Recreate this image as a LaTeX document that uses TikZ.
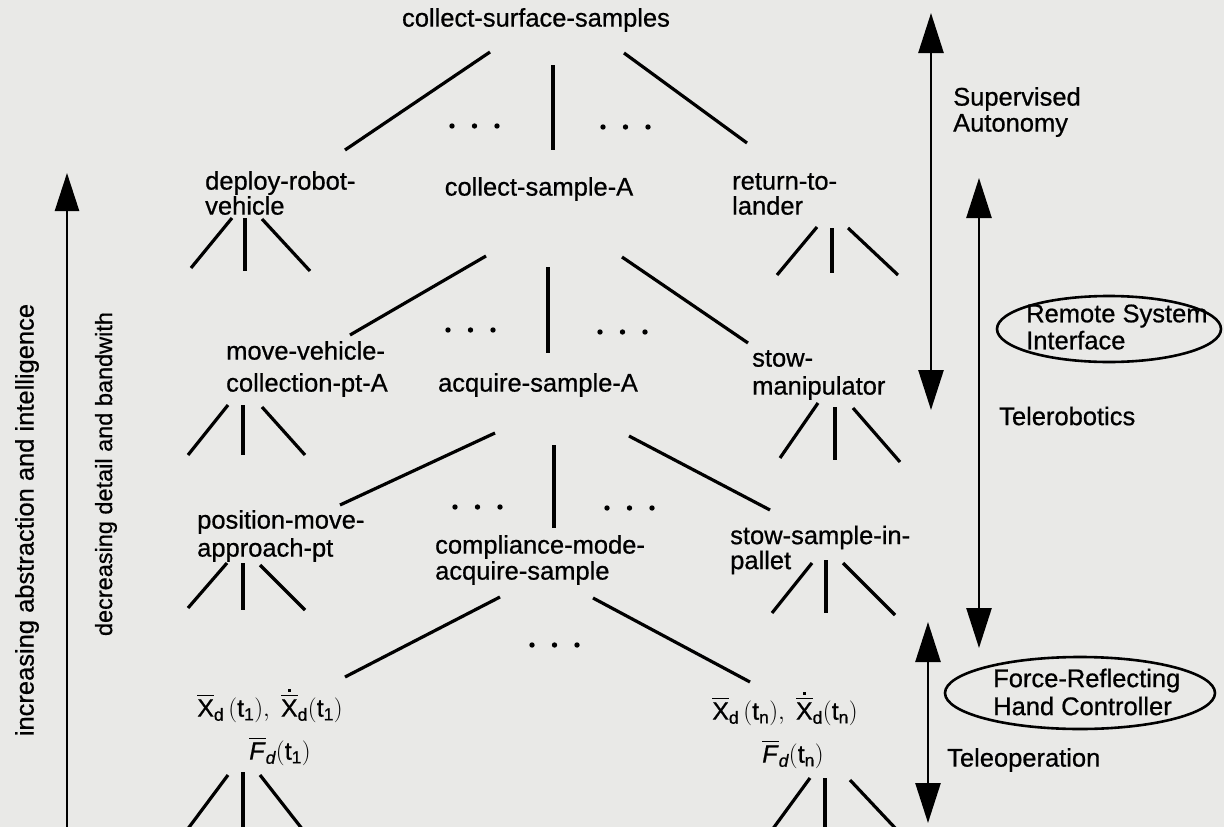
\documentclass[tikz,border=0pt]{standalone}
\usepackage{fontspec}
\setmainfont{Liberation Sans}[FakeBold=0.7]
\usepackage{amsmath}
\usetikzlibrary{arrows.meta,shapes.geometric}
\definecolor{paper}{RGB}{233,233,231}
\newcommand{\vbar}[1]{\overline{\text{#1}}}
\newcommand{\dotvbar}[1]{\overset{\raisebox{-3pt}{\rule{2.8pt}{2.8pt}}}{\vbar{#1}}}
\newcommand{\seg}[3]{\coordinate (#1a) at (#2); \coordinate (#1b) at (#3); \draw[branch] (#1a) -- (#1b);}
\newcommand{\tridots}[2]{\foreach \k in {0,1,2} {\fill (#1+\k*22.5,#2) circle (2.7);}}
\begin{document}
\begin{tikzpicture}[x=1pt,y=-1pt,
  lbl/.style={inner sep=0pt, font=\fontsize{25.5}{26}\selectfont},
  ml/.style={inner sep=0pt, align=left, anchor=west, font=\fontsize{25.5}{#1}\selectfont},
  mathlbl/.style={inner sep=0pt, align=center, font=\fontsize{25}{43}\selectfont},
  branch/.style={line width=3.2pt},
  shaft/.style={line width=2.6pt},
  uptip/.style={-{Triangle[length=38pt,width=24pt]}},
  dtip/.style={{Triangle[length=40pt,width=25pt]}-{Triangle[length=40pt,width=25pt]}},
  oval/.style={draw, ellipse, line width=2.6pt, inner sep=0pt}
]
\fill[paper] (0,0) rectangle (1224,827);
\useasboundingbox (0,0) rectangle (1224,827);

% left axis
\node[lbl, rotate=90] (incr) at (27,520) {increasing abstraction and intelligence};
\node[inner sep=0pt, font=\fontsize{23.5}{25}\selectfont, rotate=90] (decr) at (106,474) {decreasing detail and bandwith};
\coordinate (absbot) at (67,830);
\coordinate (abstop) at (67,173);
\draw[shaft, uptip] (absbot) -- (abstop);

% task nodes
\node[lbl] (css) at (536,20) {collect-surface-samples};
\node[ml=25] (drv) at (205,193) {deploy-robot-\\vehicle};
\node[lbl] (csa) at (539,189) {collect-sample-A};
\node[ml=25] (rtl) at (732,194) {return-to-\\lander};
\node[ml=32] (mvc) at (226,369) {move-vehicle-\\collection-pt-A};
\node[lbl] (asa) at (538,385) {acquire-sample-A};
\node[ml=28] (stow) at (752,375) {stow-\\manipulator};
\node[ml=28] (pmap) at (197,536) {position-move-\\approach-pt};
\node[ml=26] (cmas) at (435,560) {compliance-mode-\\acquire-sample};
\node[ml=25] (ssip) at (730,550) {stow-sample-in-\\pallet};

% trajectory labels
\node[mathlbl] (xt1) at (270,726) {$\vbar{X}_{\text{d}}\,(\text{t}_{\text{1}}),\ \dotvbar{X}_{\text{d}}(\text{t}_{\text{1}})$\\\hspace*{20pt}$\vbar{\textit{F}}_{\textit{d}}(\text{t}_{\text{1}})$};
\node[mathlbl] (xtn) at (785,729) {$\vbar{X}_{\text{d}}\,(\text{t}_{\text{n}}),\ \dotvbar{X}_{\text{d}}(\text{t}_{\text{n}})$\\\hspace*{16pt}$\vbar{\textit{F}}_{\textit{d}}(\text{t}_{\text{n}})$};

% tree branches
\seg{c1}{490,52}{345,150}
\seg{c2}{553,65}{553,150}
\seg{c3}{624,53}{747,143}
\seg{d1}{232,218}{191,268}
\seg{d2}{245,218}{245,271}
\seg{d3}{262,219}{310,271}
\seg{s1}{486,256}{350,335}
\seg{s2}{548,267}{548,353}
\seg{s3}{622,257}{748,343}
\seg{r1}{817,227}{777,275}
\seg{r2}{832,228}{832,273}
\seg{r3}{848,228}{898,275}
\seg{m1}{228,405}{188,455}
\seg{m2}{243,405}{243,455}
\seg{m3}{262,407}{305,455}
\seg{a1}{495,433}{340,505}
\seg{a2}{554,445}{554,528}
\seg{a3}{629,436}{770,510}
\seg{w1}{818,403}{780,458}
\seg{w2}{835,407}{835,460}
\seg{w3}{853,408}{900,462}
\seg{p1}{227,563}{188,608}
\seg{p2}{243,563}{243,610}
\seg{p3}{260,565}{305,610}
\seg{f1}{228,775}{187,830}
\seg{f2}{243,772}{243,830}
\seg{f3}{260,775}{303,830}
\seg{k1}{500,597}{345,677}
\seg{k3}{593,598}{750,682}
\seg{q1}{812,563}{772,613}
\seg{q2}{826,560}{826,613}
\seg{q3}{843,563}{895,615}
\seg{n1}{810,778}{772,830}
\seg{n2}{825,778}{825,830}
\seg{n3}{850,780}{897,830}

% ellipsis dots
\tridots{452}{126}
\tridots{603}{127}
\tridots{448}{330}
\tridots{600}{332}
\tridots{455}{507}
\tridots{607}{508}
\tridots{532}{645}

% right side: levels of control
\coordinate (satop) at (931,13);
\coordinate (sabot) at (931,410);
\draw[shaft, dtip] (satop) -- (sabot);
\node[ml=26] (sup) at (953,112) {Supervised\\Autonomy};

\coordinate (trtop) at (979,178);
\coordinate (trbot) at (979,648);
\draw[shaft, dtip] (trtop) -- (trbot);
\node[lbl, anchor=west] (telerob) at (999,416) {Telerobotics};

\coordinate (totop) at (928,622);
\coordinate (tobot) at (928,823);
\draw[shaft, dtip] (totop) -- (tobot);
\node[lbl, anchor=west] (teleop) at (947,760) {Teleoperation};

\node[oval, minimum width=224pt, minimum height=66pt] (rsiell) at (1109,329) {};
\node[ml=27] (rsi) at (1026,327) {Remote System\\Interface};
\node[oval, minimum width=270pt, minimum height=72pt] (frhcell) at (1080,693) {};
\node[ml=28] (frhc) at (993,692) {Force-Reflecting\\Hand Controller};
\end{tikzpicture}
\end{document}
